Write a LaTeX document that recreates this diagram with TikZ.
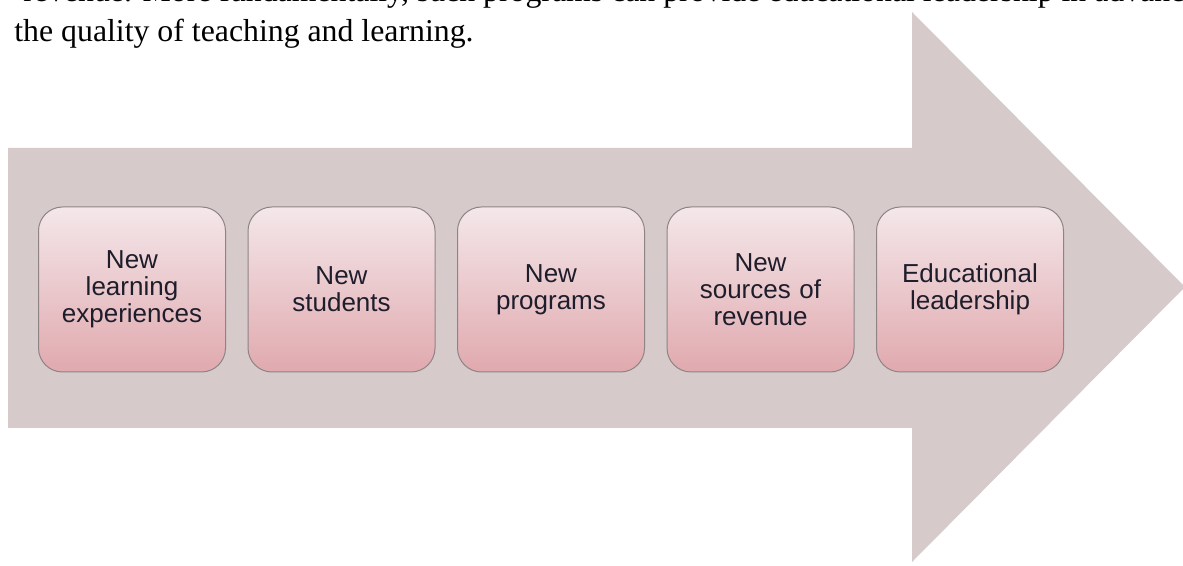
\documentclass[tikz,border=0pt]{standalone}
\usepackage{fontspec}
\setmainfont{Liberation Serif}
\newfontfamily\boxfont{Liberation Sans}
\usetikzlibrary{positioning}
\definecolor{ArrowClr}{HTML}{D6CACB}
\definecolor{BoxTopClr}{HTML}{F4E7EA}
\definecolor{BoxBotClr}{HTML}{E0A9AE}
\definecolor{BoxLineClr}{HTML}{8E8486}
\definecolor{TextClr}{HTML}{1E1D2B}

\begin{document}
\begin{tikzpicture}[x=0.5pt,y=-0.5pt,
  stagebox/.style={rectangle,rounded corners=12pt,draw=BoxLineClr,line width=0.5pt,
    top color=BoxTopClr,bottom color=BoxBotClr,minimum width=93.5pt,minimum height=82.5pt,
    text width=88pt,align=center,text=TextClr,inner sep=0pt,
    font=\boxfont\fontsize{13}{13.6}\selectfont},
  bodytext/.style={anchor=base west,inner sep=0pt,font=\fontsize{15.9}{20}\selectfont},
  node distance=10.75pt]
\useasboundingbox (0,0) rectangle (1183,566);
\clip (0,0) rectangle (1183,566);

\fill[ArrowClr] (8,148) -- (912,148) -- (912,12) -- (1185,287) -- (912,562) -- (912,428) -- (8,428) -- cycle;

\node[bodytext] (line1) at (23,1.5) {revenue. More fundamentally, such programs can provide educational leadership in advancing};
\node[bodytext] (line2) at (14,42) {the quality of teaching and learning.};

\node[stagebox] (s1) at (132,289.5) {New\\learning\\experiences};
\node[stagebox,right=of s1] (s2) {New\\students};
\node[stagebox,right=of s2] (s3) {New\\programs};
\node[stagebox,right=of s3] (s4) {New\\sources of\\revenue};
\node[stagebox,right=of s4] (s5) {Educational\\leadership};

\end{tikzpicture}
\end{document}
